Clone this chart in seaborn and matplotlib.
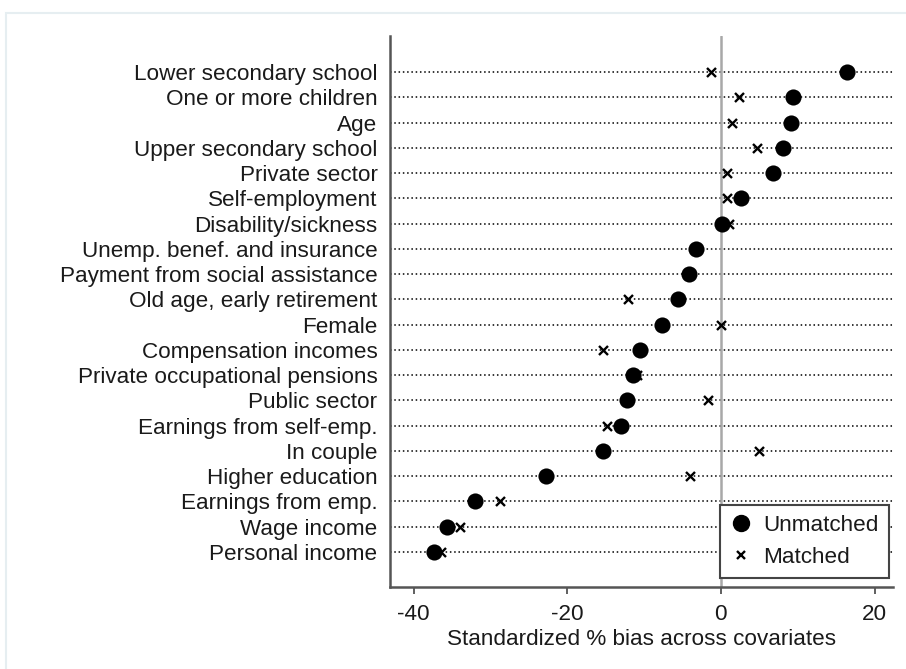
import matplotlib
matplotlib.use("Agg")
import matplotlib.pyplot as plt
from matplotlib.lines import Line2D
from matplotlib.patches import Rectangle
import pandas as pd
import seaborn as sns

covariates = [
    "Lower secondary school", "One or more children", "Age",
    "Upper secondary school", "Private sector", "Self-employment",
    "Disability/sickness", "Unemp. benef. and insurance",
    "Payment from social assistance", "Old age, early retirement",
    "Female", "Compensation incomes", "Private occupational pensions",
    "Public sector", "Earnings from self-emp.", "In couple",
    "Higher education", "Earnings from emp.", "Wage income",
    "Personal income",
]
unmatched = [16.4, 9.4, 9.1, 8.1, 6.8, 2.6, 0.2, -3.2, -4.1, -5.6,
             -7.6, -10.5, -11.5, -12.2, -13.0, -15.4, -22.8, -32.0,
             -35.7, -37.3]
matched = [-1.3, 2.3, 1.5, 4.7, 0.8, 0.8, 1.0, -3.4, -4.0, -12.1,
           0.0, -15.3, -10.9, -1.7, -14.8, 4.9, -4.0, -28.7,
           -34.0, -36.4]
x_ticks = [-40, -20, 0, 20]

sns.set_theme(style="white")
plt.rcParams["font.family"] = ["Liberation Sans", "DejaVu Sans"]
fs = 16.2
plt.rcParams.update({
    "font.size": fs,
    "xtick.labelsize": fs,
    "ytick.labelsize": fs,
    "axes.labelsize": fs,
    "legend.fontsize": fs,
})
text_color = "#1a1a1a"

df = pd.DataFrame({
    "covariate": covariates,
    "row": range(len(covariates)),
    "Unmatched": unmatched,
    "Matched": matched,
})

fig = plt.figure(figsize=(9.06, 6.69), dpi=100)
fig.patch.set_facecolor("white")
fig.patches.append(Rectangle((6 / 906, -0.01), 1.0, 1 - 13 / 669 + 0.01,
                             transform=fig.transFigure, fill=False,
                             edgecolor="#e6eef1", lw=1.5))
ax = fig.add_axes([390 / 906, 1 - 587 / 669, (893 - 390) / 906, (587 - 36) / 669])

# dotted guide lines for each covariate
for r in df["row"]:
    ax.axhline(r, color="black", lw=1.1, linestyle=(0, (1, 1.8)), zorder=1)
ax.axvline(0, color="#a8a8a8", lw=1.8, zorder=1.5)

sns.scatterplot(data=df, x="Unmatched", y="row", ax=ax, marker="o",
                s=135, color="black", edgecolor="black", linewidth=0,
                zorder=3, legend=False)
sns.scatterplot(data=df, x="Matched", y="row", ax=ax, marker="x",
                s=42, color="black", linewidth=1.7, zorder=4, legend=False)

ax.set_xlim(-43.06, 22.4)
ax.set_ylim(len(covariates) - 1 + 1.39, -1.43)
ax.set_yticks(df["row"])
ax.set_yticklabels(covariates, color=text_color)
ax.set_xticks(x_ticks)
ax.set_xticklabels([str(t) for t in x_ticks], color=text_color)
ax.tick_params(axis="y", length=0, pad=9)
ax.tick_params(axis="x", length=5, width=1.2, color="#444444", pad=7,
               bottom=True, direction="out")
ax.set_xlabel("Standardized % bias across covariates", color=text_color,
              labelpad=3)
ax.set_ylabel("")

for side in ["top", "right"]:
    ax.spines[side].set_visible(False)
for side in ["left", "bottom"]:
    ax.spines[side].set_color("#555555")
    ax.spines[side].set_linewidth(1.8)

handles = [
    Line2D([], [], marker="o", color="black", linestyle="none", markersize=11.5),
    Line2D([], [], marker="x", color="black", linestyle="none", markersize=6,
           markeredgewidth=1.7),
]
leg = ax.legend(handles, ["Unmatched", "Matched"], loc="lower right",
                bbox_to_anchor=(889 / 906, 1 - 578 / 669),
                bbox_transform=fig.transFigure, frameon=True, fancybox=False,
                framealpha=1, edgecolor="#444444", handletextpad=0.5,
                handlelength=1.0, borderpad=0.45, labelspacing=0.5,
                borderaxespad=0)
leg.get_frame().set_linewidth(1.5)
for t in leg.get_texts():
    t.set_color(text_color)
leg.set_zorder(10)

fig.savefig("out.png", dpi=100)
